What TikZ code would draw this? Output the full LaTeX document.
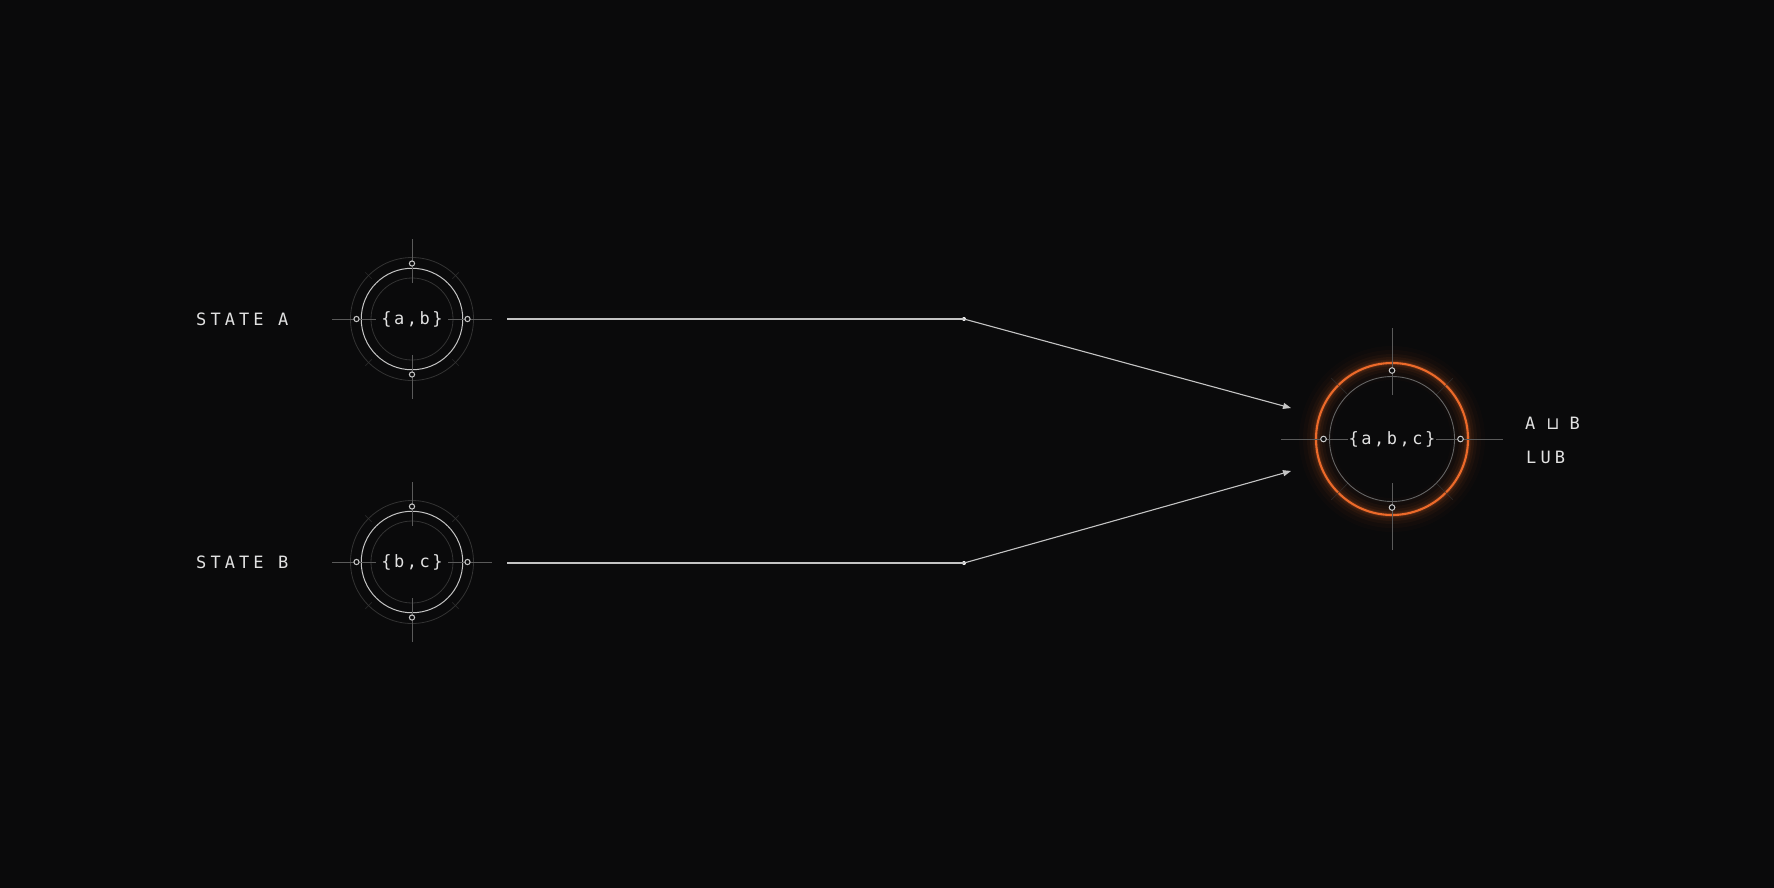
\documentclass[tikz,border=0pt]{standalone}
\usepackage{fontspec}
\newfontfamily\labf[LetterSpace=24]{DejaVu Sans Mono}
\newfontfamily\setf[LetterSpace=15]{DejaVu Sans Mono}
\newfontfamily\symf{DejaVu Sans}
\usetikzlibrary{arrows.meta}
\definecolor{bg}{HTML}{0A0A0B}
\definecolor{txt}{HTML}{E2E2E2}
\definecolor{ringc}{HTML}{C4C4C4}
\definecolor{faintc}{HTML}{333333}
\definecolor{crossc}{HTML}{5A5A5A}
\definecolor{linec}{HTML}{C4C4C4}
\definecolor{orng}{HTML}{EC6A2A}
\definecolor{innerc}{HTML}{646464}
\definecolor{portc}{HTML}{CCCCCC}
\newcommand\ringdecoA[1]{%
  \draw[faintring] (#1.center) circle[radius=61.5];
  \draw[faintring] (#1.center) circle[radius=41];
  \foreach \a in {0,90,180,270}{\draw[cross] ([shift={(\a:36)}]#1.center) -- ([shift={(\a:80)}]#1.center);}
  \foreach \a in {45,135,225,315}{\draw[tickm] ([shift={(\a:57)}]#1.center) -- ([shift={(\a:66)}]#1.center);}
  \foreach \a in {0,90,180,270}{\draw[port] ([shift={(\a:55.5)}]#1.center) circle[radius=2.6];}
}
\begin{document}
\begin{tikzpicture}[x=1pt,y=-1pt,
  labeltext/.style={text=txt, font=\labf\fontsize{17}{20}\selectfont, inner sep=0pt},
  settext/.style={text=txt, font=\setf\fontsize{17}{20}\selectfont, inner sep=0pt},
  ringA/.style={circle, draw=ringc, line width=1pt, minimum size=101.5pt, inner sep=0pt},
  ringC/.style={circle, draw=orng, line width=2.1pt, minimum size=152pt, inner sep=0pt},
  faintring/.style={draw=faintc, line width=0.8pt},
  cross/.style={draw=crossc, line width=0.9pt},
  tickm/.style={draw=faintc, line width=0.7pt, opacity=0.7},
  port/.style={draw=portc, line width=1pt, fill=bg},
  conn/.style={draw=linec, line width=1.1pt},
  bendpt/.style={fill=white, circle, inner sep=0pt, minimum size=4pt},
]
\useasboundingbox (0,0) rectangle (1774,887);
\fill[bg] (-10,-10) rectangle (1784,897);

% glow around result ring
\foreach \w/\o in {34/0.02,26/0.03,18/0.045,12/0.06,7/0.09,4/0.14}{
  \draw[orng, line width=\w pt, opacity=\o] (1392,439) circle[radius=76];
}

% state nodes
\node[ringA, settext] (A) at (412,319) {\{a,b\}};
\node[ringA, settext] (B) at (412,562) {\{b,c\}};
\node[labeltext, anchor=west] (la) at (196,319) {STATE A};
\node[labeltext, anchor=west] (lb) at (196,562) {STATE B};
\ringdecoA{A}
\ringdecoA{B}

% result node
\node[ringC, settext] (C) at (1392,439) {\{a,b,c\}};
\draw[innerc, line width=0.9pt] (C.center) circle[radius=62.5];
\foreach \a in {0,90,180,270}{\draw[cross] ([shift={(\a:44)}]C.center) -- ([shift={(\a:111)}]C.center);}
\foreach \a in {45,135,225,315}{\draw[tickm] ([shift={(\a:64)}]C.center) -- ([shift={(\a:86)}]C.center);}
\foreach \a in {0,90,180,270}{\draw[port] ([shift={(\a:68.5)}]C.center) circle[radius=2.8];}
\node[labeltext, anchor=west] (lub1) at (1525,423) {A\kern11pt{\symf\fontsize{17}{20}\selectfont ⊔}\kern10pt B};
\node[labeltext, anchor=west] (lub2) at (1526,457) {LUB};

% connectors
\coordinate (a0) at (507,319);
\coordinate (b0) at (507,563);
\node[bendpt] (ka) at (964,319) {};
\node[bendpt] (kb) at (964,563) {};
\coordinate (ta) at (1291,408);
\coordinate (tb) at (1291,471);
\draw[conn] (a0) -- (ka.center);
\draw[conn, -{Triangle[length=8pt,width=6pt]}] (ka.center) -- (ta);
\draw[conn] (b0) -- (kb.center);
\draw[conn, -{Triangle[length=8pt,width=6pt]}] (kb.center) -- (tb);
\end{tikzpicture}
\end{document}
